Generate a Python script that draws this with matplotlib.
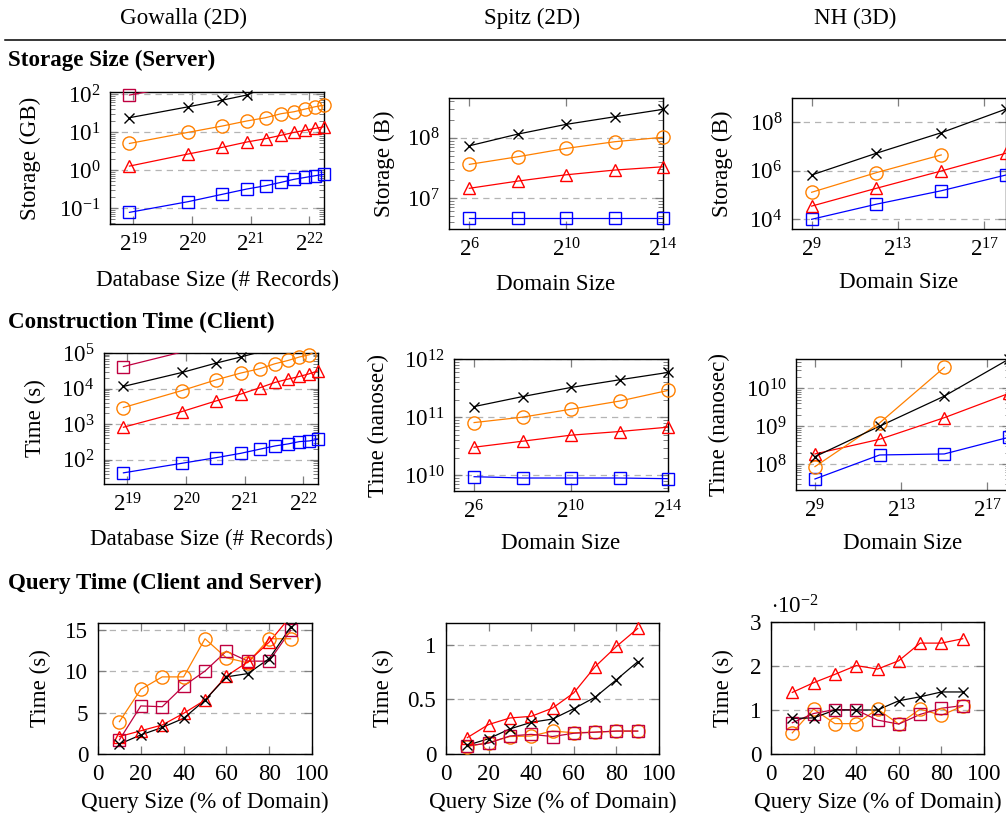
import math
import matplotlib
matplotlib.use('Agg')
import matplotlib.pyplot as plt
from matplotlib.ticker import FixedLocator, FuncFormatter, NullLocator, LogLocator, NullFormatter
from matplotlib.lines import Line2D

plt.rcParams['font.family'] = ['Liberation Serif', 'DejaVu Serif']
plt.rcParams['mathtext.fontset'] = 'custom'
plt.rcParams['mathtext.rm'] = 'Liberation Serif'
plt.rcParams['mathtext.it'] = 'Liberation Serif:italic'
plt.rcParams['mathtext.bf'] = 'Liberation Serif:bold'

# ---- data ----
gow_records = [0.5e6, 1e6, 1.5e6, 2e6, 2.5e6, 3e6, 3.5e6, 4e6, 4.5e6, 5e6]
spitz_domain = [2**6, 2**8, 2**10, 2**12, 2**14]
nh_domain = [2**9, 2**12, 2**15, 2**18]
query_pct = [10, 20, 30, 40, 50, 60, 70, 80, 90]

# storage size (server)
gs_blue = [0.077, 0.147, 0.23, 0.316, 0.386, 0.474, 0.57, 0.64, 0.71, 0.77]
gs_red = [1.27, 2.64, 3.95, 5.45, 6.67, 8.2, 9.8, 11.1, 12.5, 13.8]
gs_orange = [5.0, 9.8, 14.4, 19.5, 23.8, 30.3, 34.2, 40.3, 46.4, 50.5]
gs_black = [23.8, 46, 69, 94, 150]
gs_purple = [94, 180]

ss_blue = [4.7e6, 4.7e6, 4.7e6, 4.7e6, 4.7e6]
ss_red = [1.45e7, 1.91e7, 2.43e7, 2.91e7, 3.3e7]
ss_orange = [3.62e7, 4.84e7, 6.66e7, 8.59e7, 1.02e8]
ss_black = [7.36e7, 1.15e8, 1.67e8, 2.23e8, 2.96e8]

ns_blue = [1e4, 4.2e4, 1.5e5, 6.7e5]
ns_red = [3.5e4, 1.9e5, 9.8e5, 5.3e6]
ns_orange = [1.3e5, 8.4e5, 4.5e6]
ns_black = [6.7e5, 5.3e6, 3.7e7, 3.5e8]

# construction time (client)
gc_blue = [43, 80, 115, 152, 198, 245, 279, 324, 339, 378]
gc_red = [822, 2270, 4530, 7000, 10500, 14900, 18500, 21900, 26100, 31700]
gc_orange = [2940, 8840, 17700, 27300, 36100, 50000, 61700, 77100, 89500, 125000]
gc_black = [11500, 28400, 52300, 77100, 107000]
gc_purple = [41700, 107000]

sc_blue = [9.46e9, 8.98e9, 8.98e9, 8.98e9, 8.75e9]
sc_red = [3.04e10, 3.86e10, 4.9e10, 5.66e10, 6.73e10]
sc_orange = [8.07e10, 1.0e11, 1.37e11, 1.89e11, 2.88e11]
sc_black = [1.52e11, 2.26e11, 3.24e11, 4.39e11, 5.87e11]

nc_blue = [4.0e7, 1.73e8, 1.84e8, 5.1e8]
nc_red = [1.84e8, 4.5e8, 1.68e9, 7.4e9]
nc_orange = [8.5e7, 1.22e9, 3.6e10]
nc_black = [1.56e8, 1.0e9, 6.25e9, 6.0e10]

# query time (client and server)
gq_orange = [3.9, 7.8, 9.3, 9.3, 13.9, 11.6, 11.0, 13.9, 13.9]
gq_purple = [1.7, 5.8, 5.7, 8.2, 10.0, 12.4, 11.2, 11.2, 14.9]
gq_red = [2.1, 2.8, 3.5, 4.9, 6.5, 9.4, 11.1, 13.5, 16.6]
gq_black = [1.2, 2.3, 3.2, 4.3, 6.5, 9.3, 9.7, 11.5, 15.3]

sq_orange = [0.067, 0.105, 0.16, 0.165, 0.21, 0.195, 0.2, 0.21, 0.21]
sq_purple = [0.075, 0.1, 0.165, 0.18, 0.16, 0.19, 0.2, 0.21, 0.21]
sq_red = [0.15, 0.27, 0.33, 0.345, 0.42, 0.56, 0.8, 0.985, 1.15]
sq_black = [0.08, 0.14, 0.23, 0.29, 0.32, 0.415, 0.52, 0.68, 0.845]

# NH query times in units of 1e-2 s
nq_orange = [0.48, 1.02, 0.69, 0.69, 1.02, 0.68, 1.02, 0.88, 1.09]
nq_purple = [0.71, 0.92, 1.01, 1.0, 0.77, 0.68, 0.9, 1.04, 1.1]
nq_red = [1.4, 1.62, 1.81, 2.01, 1.93, 2.12, 2.52, 2.52, 2.62]
nq_black = [0.81, 0.82, 1.0, 1.0, 1.0, 1.21, 1.3, 1.41, 1.41]

styles = {
    'blue': dict(color='#0000ff', marker='s', ms=8.3),
    'red': dict(color='#ff0000', marker='^', ms=8.3),
    'orange': dict(color='#ff8000', marker='o', ms=9.5),
    'black': dict(color='black', marker='x', ms=6.5),
    'purple': dict(color='#bf0040', marker='s', ms=8.8),
}

W, H = 1006, 813
fig = plt.figure(figsize=(W / 100, H / 100), dpi=100)
FS = 16.6


def make_ax(x0, y0, x1, y1):
    return fig.add_axes([x0 / W, 1 - y1 / H, (x1 - x0) / W, (y1 - y0) / H])


def draw(ax, xs, ys, key):
    st = styles[key]
    ax.plot(xs[:len(ys)], ys, color=st['color'], lw=0.9, zorder=3)
    lo, hi = ax.get_ylim()
    px = [x for x, y in zip(xs, ys) if lo <= y <= hi * 1.001]
    py = [y for y in ys if lo <= y <= hi * 1.001]
    ax.plot(px, py, ls='none', marker=st['marker'], ms=st['ms'], mfc='none',
            mec=st['color'], mew=1.0, clip_on=False, zorder=4)


def style_ax(ax, ylab, xlab, ylab_x, xlab_y):
    for s in ax.spines.values():
        s.set_linewidth(1.0)
    ax.tick_params(which='both', direction='in', top=True, right=True,
                   color='#7f7f7f', labelsize=FS, pad=7)
    ax.tick_params(which='major', length=6, width=0.9)
    ax.tick_params(which='minor', length=3.5, width=0.7)
    ax.yaxis.grid(True, which='major', ls=(0, (5, 4)), color='#b4b4b4', lw=0.9)
    ax.set_axisbelow(True)
    ax.set_ylabel(ylab, fontsize=FS)
    ax.set_xlabel(xlab, fontsize=FS)
    ax.yaxis.set_label_coords(ylab_x, 0.5)
    ax.xaxis.set_label_coords(0.5, xlab_y)
    ax.xaxis.label.set_va('center')
    ax.yaxis.label.set_va('center')


pow10 = FuncFormatter(lambda v, p: r'$10^{%d}$' % round(math.log10(v)))
pow2 = FuncFormatter(lambda v, p: r'$2^{%d}$' % round(math.log2(v)))


def log_panel(ax, xlim, xt, ylim, yt, minor=True):
    ax.set_xscale('log', base=2)
    ax.set_yscale('log')
    ax.set_xlim(*xlim)
    ax.set_ylim(*ylim)
    ax.xaxis.set_major_locator(FixedLocator(xt))
    ax.xaxis.set_major_formatter(pow2)
    ax.xaxis.set_minor_locator(NullLocator())
    ax.yaxis.set_major_locator(FixedLocator(yt))
    ax.yaxis.set_major_formatter(pow10)
    if minor:
        ax.yaxis.set_minor_locator(LogLocator(base=10, subs=range(2, 10), numticks=50))
    else:
        ax.yaxis.set_minor_locator(NullLocator())
    ax.yaxis.set_minor_formatter(NullFormatter())


# ---- header ----
fig.text(183 / W, 1 - 18 / H, 'Gowalla (2D)', ha='center', va='center', fontsize=FS)
fig.text(532 / W, 1 - 18 / H, 'Spitz (2D)', ha='center', va='center', fontsize=FS)
fig.text(855 / W, 1 - 18 / H, 'NH (3D)', ha='center', va='center', fontsize=FS)
fig.add_artist(Line2D([5 / W, 1], [1 - 40 / H, 1 - 40 / H], color='black', lw=1.1))
for ty, t in [(60, 'Storage Size (Server)'), (322, 'Construction Time (Client)'),
              (583, 'Query Time (Client and Server)')]:
    fig.text(8 / W, 1 - ty / H, t, ha='left', va='center', fontsize=FS, fontweight='bold')

# ---- row 1: storage ----
ax = make_ax(110, 92, 324, 224)
log_panel(ax, (2**18.6, 2**22.25), [2**19, 2**20, 2**21, 2**22], (10**-1.42, 10**2.053), [0.1, 1, 10, 100])
for key, ys in [('blue', gs_blue), ('red', gs_red), ('orange', gs_orange), ('black', gs_black), ('purple', gs_purple)]:
    draw(ax, gow_records, ys, key)
style_ax(ax, 'Storage (GB)', 'Database Size (# Records)', -0.374, -0.424)

ax = make_ax(449, 98, 663, 229)
log_panel(ax, (2**5.16, 2**14), [2**6, 2**10, 2**14], (10**6.486, 10**8.66), [1e7, 1e8])
for key, ys in [('blue', ss_blue), ('red', ss_red), ('orange', ss_orange), ('black', ss_black)]:
    draw(ax, spitz_domain, ys, key)
style_ax(ax, 'Storage (B)', 'Domain Size', -0.3, -0.427)

ax = make_ax(792, 98, 1006, 229)
log_panel(ax, (2**8.09, 2**18), [2**9, 2**13, 2**17], (10**3.6, 10**9.0), [1e4, 1e6, 1e8], minor=False)
for key, ys in [('blue', ns_blue), ('red', ns_red), ('orange', ns_orange), ('black', ns_black)]:
    draw(ax, nh_domain, ys, key)
style_ax(ax, 'Storage (B)', 'Domain Size', -0.327, -0.41)

# ---- row 2: construction ----
ax = make_ax(104, 353, 318, 484)
log_panel(ax, (2**18.6, 2**22.25), [2**19, 2**20, 2**21, 2**22], (10**1.32, 10**5.0), [1e2, 1e3, 1e4, 1e5])
for key, ys in [('blue', gc_blue), ('red', gc_red), ('orange', gc_orange), ('black', gc_black), ('purple', gc_purple)]:
    draw(ax, gow_records, ys, key)
style_ax(ax, 'Time (s)', 'Database Size (# Records)', -0.322, -0.427)

ax = make_ax(454, 359, 668, 491)
log_panel(ax, (2**5.17, 2**14), [2**6, 2**10, 2**14], (10**9.73, 10**12.0), [1e10, 1e11, 1e12])
for key, ys in [('blue', sc_blue), ('red', sc_red), ('orange', sc_orange), ('black', sc_black)]:
    draw(ax, spitz_domain, ys, key)
style_ax(ax, 'Time (nanosec)', 'Domain Size', -0.355, -0.40)

ax = make_ax(796, 359, 1010, 490)
log_panel(ax, (2**8.12, 2**18.05), [2**9, 2**13, 2**17], (10**7.31, 10**10.78), [1e8, 1e9, 1e10])
for key, ys in [('blue', nc_blue), ('red', nc_red), ('orange', nc_orange), ('black', nc_black)]:
    draw(ax, nh_domain, ys, key)
style_ax(ax, 'Time (nanosec)', 'Domain Size', -0.36, -0.41)


# ---- row 3: query ----
def lin_panel(ax, ylim, yt, ylabels):
    ax.set_xlim(0, 100)
    ax.set_ylim(*ylim)
    ax.set_xticks([0, 20, 40, 60, 80, 100])
    ax.set_yticks(yt)
    ax.set_yticklabels(ylabels)


ax = make_ax(98, 623, 312, 754)
lin_panel(ax, (0, 15.8), [0, 5, 10, 15], ['0', '5', '10', '15'])
for key, ys in [('orange', gq_orange), ('purple', gq_purple), ('red', gq_red), ('black', gq_black)]:
    draw(ax, query_pct, ys, key)
style_ax(ax, 'Time (s)', 'Query Size (% of Domain)', -0.27, -0.366)

ax = make_ax(446, 623, 659, 754)
lin_panel(ax, (0, 1.2), [0, 0.5, 1], ['0', '0.5', '1'])
for key, ys in [('orange', sq_orange), ('purple', sq_purple), ('red', sq_red), ('black', sq_black)]:
    draw(ax, query_pct, ys, key)
style_ax(ax, 'Time (s)', 'Query Size (% of Domain)', -0.294, -0.366)

ax = make_ax(771, 622, 984, 754)
lin_panel(ax, (0, 3), [0, 1, 2, 3], ['0', '1', '2', '3'])
for key, ys in [('orange', nq_orange), ('purple', nq_purple), ('red', nq_red), ('black', nq_black)]:
    draw(ax, query_pct, ys, key)
style_ax(ax, 'Time (s)', 'Query Size (% of Domain)', -0.224, -0.366)
ax.text(0.0, 1.03, r'$\cdot 10^{-2}$', transform=ax.transAxes, fontsize=FS, ha='left', va='bottom')

fig.savefig('out.png', dpi=100)
